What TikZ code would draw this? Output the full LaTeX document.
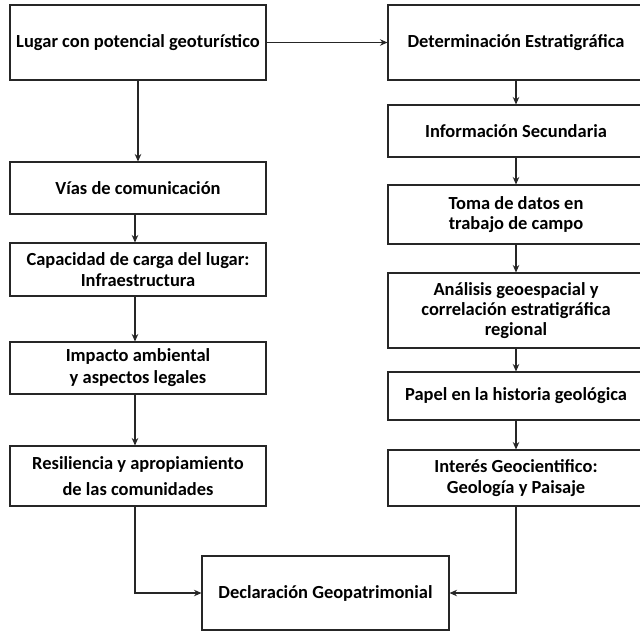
\documentclass[tikz,border=0pt]{standalone}
\usepackage{fontspec}
\setmainfont{Carlito}
\usetikzlibrary{positioning, arrows.meta}

\begin{document}
\begin{tikzpicture}[>={Stealth[length=1.5mm,width=1.3mm]}, semithick,
    box/.style={draw=black!85, semithick, minimum width=5.12cm, align=center,
      font=\fontsize{10.5}{11.5}\selectfont\bfseries, inner sep=0pt},
    link/.style={->, draw=black!85, semithick}]
    \clip (0,0) rectangle (12.8,-12.66);
    % Left column
    \node[box, minimum height=1.5cm]  (lugar)  at (2.76,-0.85) {Lugar con potencial geoturístico};
    \node[box, minimum height=1.04cm] (vias)   at (2.76,-3.76) {Vías de comunicación};
    \node[box, minimum height=1.06cm] (carga)  at (2.76,-5.39) {Capacidad de carga del lugar:\\Infraestructura};
    \node[box, minimum height=1.04cm] (impacto) at (2.76,-7.36) {Impacto ambiental\\[1pt]y aspectos legales};
    \node[box, minimum height=1.2cm]  (resil)  at (2.76,-9.52) {Resiliencia y apropiamiento\\[3pt]de las comunidades};

    % Right column
    \node[box, minimum height=1.5cm]  (estrat) at (10.32,-0.85) {Determinación Estratigráfica};
    \node[box, minimum height=1.04cm] (info)   at (10.32,-2.62) {Información Secundaria};
    \node[box, minimum height=1.18cm] (campo)  at (10.32,-4.29) {Toma de datos en\\trabajo de campo};
    \node[box, minimum height=1.5cm]  (geoesp) at (10.32,-6.21) {Análisis geoespacial y\\correlación estratigráfica\\regional};
    \node[box, minimum height=0.96cm] (papel)  at (10.32,-7.92) {Papel en la historia geológica};
    \node[box, minimum height=1.12cm] (interes) at (10.32,-9.56) {Interés Geocientifico:\\Geología y Paisaje};

    % Result
    \node[box, minimum width=4.94cm, minimum height=1.48cm] (declara) at (6.51,-11.86) {Declaración Geopatrimonial};

    \draw[link] (lugar) -- (estrat);
    \draw[link] (lugar) -- (vias);
    \draw[link] ([xshift=-0.06cm]vias.south) -- ([xshift=-0.06cm]carga.north);
    \draw[link] ([xshift=-0.06cm]carga.south) -- ([xshift=-0.06cm]impacto.north);
    \draw[link] ([xshift=-0.06cm]impacto.south) -- ([xshift=-0.06cm]resil.north);
    \draw[link] (estrat) -- (info);
    \draw[link] (info) -- (campo);
    \draw[link] (campo) -- (geoesp);
    \draw[link] (geoesp) -- (papel);
    \draw[link] (papel) -- (interes);
    \draw[link] ([xshift=-0.06cm]resil.south) |- (declara.west);
    \draw[link] (interes.south) |- (declara.east);
\end{tikzpicture}
\end{document}
